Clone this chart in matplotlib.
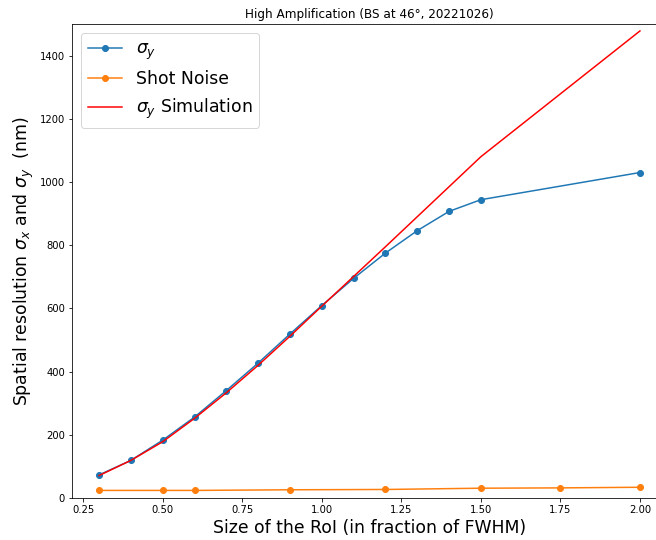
import numpy as np
from matplotlib import pyplot as plt

#
# Data
#
roi = [0.3, 0.4, 0.5, 0.6, 0.7, 0.8, 0.9, 1.0, 1.1, 1.2, 1.3, 1.4, 1.5, 2.0]
sigma_y = [73, 119, 183, 256, 340, 427, 519, 609, 695, 775, 846, 907, 944, 1030]
sigma_y_sim = [71, 119, 178, 252, 333, 420, 512, 607, 701, 795, 890, 985, 1080, 1478]

roi_noise = [0.3, 0.5, 0.6, 0.9, 1.2, 1.5, 1.75, 2.0]
shot_noise = [24, 24, 24, 26, 27, 31, 32, 34]

#
# Plot
#
fig = plt.figure(figsize=(656 / 72, 540 / 72), dpi=72)
ax = fig.add_axes([72 / 656, 42 / 540, 595 / 656, 474 / 540])

ax.plot(roi, sigma_y, 'o-', color='tab:blue', label=r'$\sigma_y$')
ax.plot(roi_noise, shot_noise, 'o-', color='tab:orange', label='Shot Noise')
ax.plot(roi, sigma_y_sim, '-', color='red', label=r'$\sigma_y$ Simulation')

ax.set_xlim(0.215, 2.085)
ax.set_ylim(0, 1500)
ax.set_xticks([0.25, 0.5, 0.75, 1.0, 1.25, 1.5, 1.75, 2.0])
ax.set_yticks(np.arange(0, 1401, 200))

ax.set_title('High Amplification (BS at 46°, 20221026)')
ax.set_xlabel('Size of the RoI (in fraction of FWHM)', fontsize='xx-large')
ax.set_ylabel(r'Spatial resolution $\sigma_x$ and $\sigma_y$  (nm)', fontsize='xx-large')
ax.legend(loc='upper left', fontsize='xx-large')

fig.savefig('out.png', dpi=72)
